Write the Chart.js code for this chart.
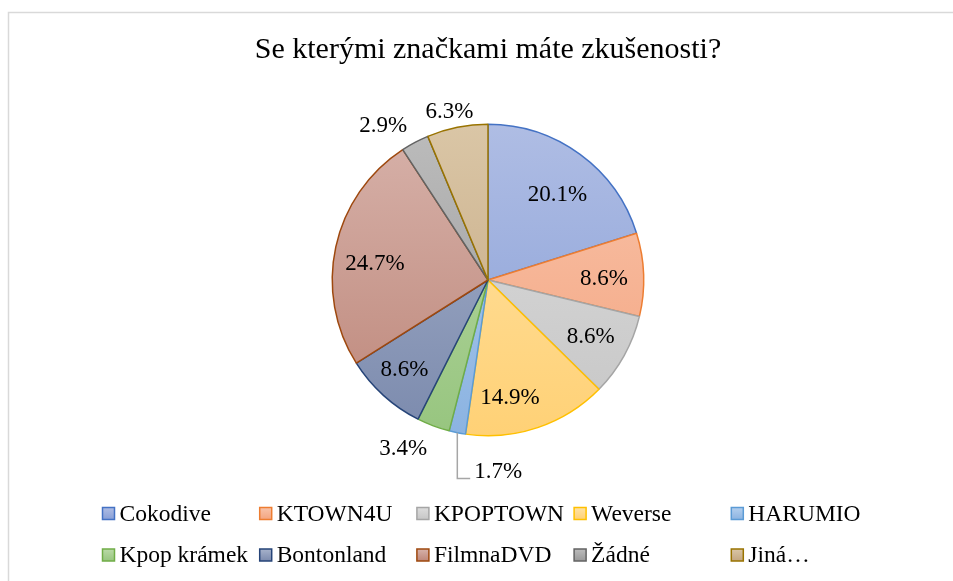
<!DOCTYPE html>
<html>
<head>
<meta charset="utf-8">
<script src="https://cdn.jsdelivr.net/npm/chart.js@4.4.1/dist/chart.umd.min.js"></script>
<style>
  html, body { margin: 0; padding: 0; background: #fff; }
  #wrap { width: 953px; height: 581px; }
</style>
</head>
<body>
<div id="wrap"><canvas id="pie"></canvas></div>
<script>
var title = 'Se kterými značkami máte zkušenosti?';
var labels = ['Cokodive', 'KTOWN4U', 'KPOPTOWN', 'Weverse', 'HARUMIO',
  'Kpop krámek', 'Bontonland', 'FilmnaDVD', 'Žádné', 'Jiná…'];
var values = [20.1, 8.6, 8.6, 14.9, 1.7, 3.4, 8.6, 24.7, 2.9, 6.3];

var lightColors = ['#AFBDE4', '#F8C4AB', '#DDDDDD', '#FFE3A6', '#B4CFEE',
  '#BADAA7', '#A7B2CB', '#D7B2AA', '#BCBCBC', '#DAC6A6'];
var darkColors = ['#889FD7', '#F4A47F', '#C6C6C6', '#FFD176', '#8BB3E1',
  '#97C57F', '#7B8AAD', '#BD8679', '#999999', '#C3A680'];
var edgeColors = ['#4472C4', '#ED7D31', '#A5A5A5', '#FFC000', '#5B9BD5',
  '#70AD47', '#264478', '#9E480E', '#636363', '#997300'];

// label placement: [radius factor, angle shift in degrees]
var labelPos = [[0.706, 3], [0.745, 1.5], [0.755, 0], [0.768, 8], [1.232, -14.4],
  [1.216, 6], [0.79, 0.5], [0.734, -4], [1.195, -6.3], [1.106, -1.6]];

var serif = '"Liberation Serif", "Times New Roman", serif';

function sliceFill(ctx) {
  var chart = ctx.chart;
  var i = ctx.dataIndex;
  var area = chart.chartArea;
  if (!area) return lightColors[i];
  var cy = (area.top + area.bottom) / 2;
  var r = Math.min(area.right - area.left, area.bottom - area.top) / 2;
  var g = chart.ctx.createLinearGradient(0, cy - r, 0, cy + r);
  g.addColorStop(0, lightColors[i]);
  g.addColorStop(1, darkColors[i]);
  return g;
}

var framePlugin = {
  id: 'frame',
  beforeDraw: function(chart) {
    var c = chart.ctx;
    c.save();
    c.fillStyle = '#fff';
    c.fillRect(0, 0, chart.width, chart.height);
    c.strokeStyle = '#D9D9D9';
    c.lineWidth = 1.5;
    c.strokeRect(8.5, 12.5, 1000, 1000);
    c.restore();
  }
};

var labelPlugin = {
  id: 'sliceLabels',
  afterDatasetsDraw: function(chart) {
    var c = chart.ctx;
    var arcs = chart.getDatasetMeta(0).data;
    c.save();
    c.font = '23px ' + serif;
    c.fillStyle = '#000';
    c.textAlign = 'center';
    c.textBaseline = 'middle';
    arcs.forEach(function(arc, i) {
      var p = arc.getProps(['x', 'y', 'startAngle', 'endAngle', 'outerRadius'], true);
      var mid = (p.startAngle + p.endAngle) / 2;
      var a = mid + labelPos[i][1] * Math.PI / 180;
      var r = p.outerRadius * labelPos[i][0];
      var lx = p.x + Math.cos(a) * r;
      var ly = p.y + Math.sin(a) * r;
      var txt = values[i].toFixed(1) + '%';
      c.fillText(txt, lx, ly);
      if (i === 4) {
        var ex = p.x + Math.cos(mid) * p.outerRadius;
        var ey = p.y + Math.sin(mid) * p.outerRadius;
        var w = c.measureText(txt).width;
        c.beginPath();
        c.strokeStyle = '#A6A6A6';
        c.lineWidth = 1.5;
        c.moveTo(ex, ey);
        c.lineTo(ex, ly + 7);
        c.lineTo(lx - w / 2 - 4, ly + 7);
        c.stroke();
      }
    });
    c.restore();
  }
};

var legendPlugin = {
  id: 'gridLegend',
  afterDraw: function(chart) {
    var c = chart.ctx;
    c.save();
    c.font = '23.5px ' + serif;
    c.textBaseline = 'middle';
    c.textAlign = 'left';
    labels.forEach(function(lab, i) {
      var col = i % 5, row = Math.floor(i / 5);
      var x = 102.5 + col * 157.2;
      var y = 513.5 + row * 41.5;
      var g = c.createLinearGradient(0, y - 6, 0, y + 6);
      g.addColorStop(0, lightColors[i]);
      g.addColorStop(1, darkColors[i]);
      c.fillStyle = g;
      c.fillRect(x, y - 6, 12, 12);
      c.strokeStyle = edgeColors[i];
      c.lineWidth = 1.5;
      c.strokeRect(x, y - 6, 12, 12);
      c.fillStyle = '#000';
      c.fillText(lab, x + 17, y + 1);
    });
    c.restore();
  }
};

new Chart(document.getElementById('pie'), {
  type: 'pie',
  data: {
    labels: labels,
    datasets: [{
      data: values,
      backgroundColor: sliceFill,
      borderColor: edgeColors,
      borderWidth: 1.5
    }]
  },
  options: {
    responsive: true,
    maintainAspectRatio: false,
    animation: false,
    layout: { padding: { left: 23, right: 0, top: 0, bottom: 144.5 } },
    plugins: {
      legend: { display: false },
      tooltip: { enabled: false },
      title: {
        display: true,
        text: title,
        color: '#000',
        font: { family: serif, size: 30, weight: 'normal', lineHeight: 1.2 },
        padding: { top: 32.5, bottom: 55 }
      }
    }
  },
  plugins: [framePlugin, labelPlugin, legendPlugin]
});
</script>
</body>
</html>
